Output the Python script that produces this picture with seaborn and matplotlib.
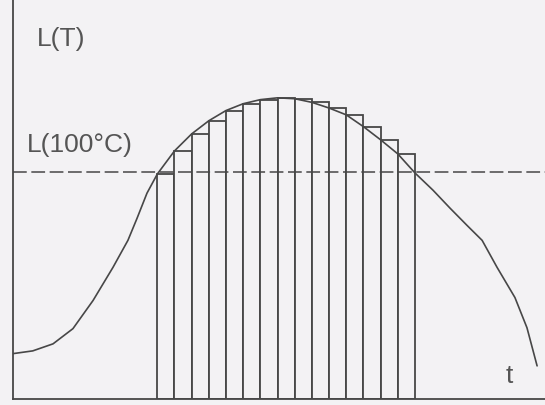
"""
Heating curve L(T) over time with left Riemann bars above the L(100 C) reference.
"""
import numpy as np
import pandas as pd
import matplotlib
matplotlib.use("Agg")
import matplotlib.pyplot as plt
import seaborn as sns

# ── Data ──
# time of left edge of each interval, bar heights = L at left edge
bar_t = np.arange(15)
bar_L = [0.991, 1.093, 1.168, 1.226, 1.271, 1.301, 1.319, 1.327,
         1.323, 1.307, 1.282, 1.252, 1.200, 1.142, 1.080]

# lethality curve L(T) over time
curve_t = [-8.39, -7.25, -6.07, -4.91, -3.74, -2.58, -1.71, -1.18, -0.60,
           0, 1, 2, 3, 4, 5, 6, 7, 8, 9, 10, 11, 12, 13, 14, 15,
           16.05, 17.04, 18.03, 18.91, 19.78, 20.82, 21.52, 22.11]
curve_L = [0.200, 0.212, 0.243, 0.310, 0.434, 0.580, 0.699, 0.796, 0.907,
           0.991, 1.093, 1.168, 1.226, 1.271, 1.301, 1.319, 1.327,
           1.323, 1.307, 1.282, 1.252, 1.200, 1.142, 1.080, 0.996,
           0.920, 0.841, 0.765, 0.699, 0.580, 0.447, 0.314, 0.146]

L_ref = 1.0  # L(100°C)

INK = "#474747"
PAPER = "#f3f2f4"

sns.set_theme(style="white")
plt.rcParams.update({
    "font.family": ["Liberation Sans", "DejaVu Sans"],
    "figure.facecolor": PAPER,
    "axes.facecolor": PAPER,
})

fig = plt.figure(figsize=(5.45, 4.05), dpi=100)
ax = fig.add_axes([13 / 545, 6 / 405, 532 / 545, 399 / 405])

bars = pd.DataFrame({"t": bar_t + 0.5, "L": bar_L})
sns.barplot(data=bars, x="t", y="L", native_scale=True, width=1,
            errorbar=None, color=PAPER, edgecolor=INK, linewidth=1.3,
            ax=ax, zorder=2)

ax.axhline(L_ref, color=INK, lw=1.1, dashes=(9, 3), zorder=3)

curve = pd.DataFrame({"t": curve_t, "L": curve_L})
sns.lineplot(data=curve, x="t", y="L", color=INK, lw=1.2, ax=ax, zorder=4)

ax.set_xlim(-8.40, 22.57)
ax.set_ylim(0, 1.758)
ax.set_xticks([])
ax.set_yticks([])
ax.set_xlabel("")
ax.set_ylabel("")
for side in ["top", "right"]:
    ax.spines[side].set_visible(False)
for side in ["left", "bottom"]:
    ax.spines[side].set_color(INK)
    ax.spines[side].set_linewidth(1.3)

txt = dict(color="#555555", fontsize=19, va="center", ha="left")
ax.text(-7.0, 1.586, "L(T)", **txt)
ax.text(-7.58, 1.119, "L(100°C)", **txt)
ax.text(20.3, 0.101, "t", **txt)

fig.savefig("out.png", dpi=100, facecolor=PAPER)
